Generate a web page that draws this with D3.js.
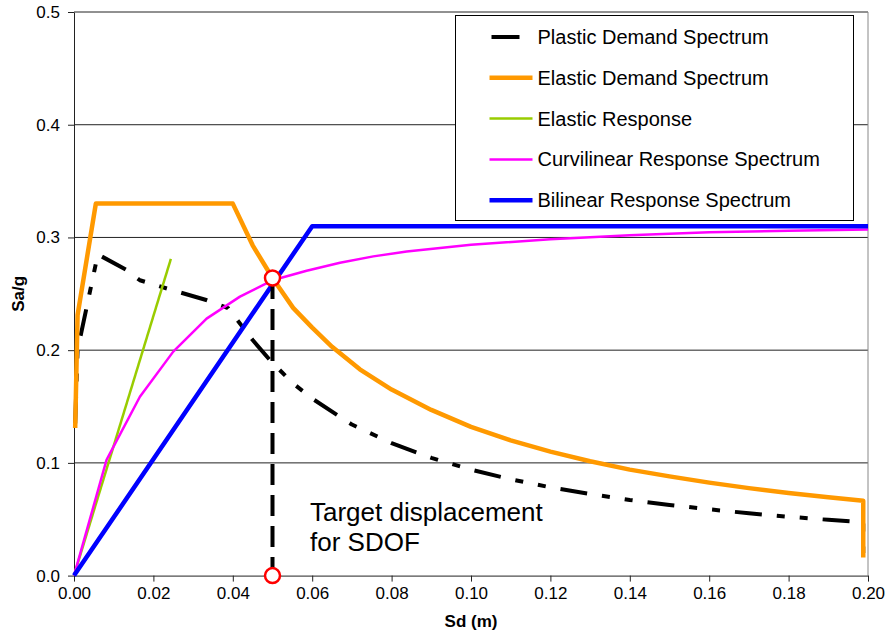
<!DOCTYPE html>
<html>
<head>
<meta charset="utf-8">
<script src="https://cdn.jsdelivr.net/npm/d3@7"></script>
<style>
    body { margin: 0; background: #fff; }
    #chart-area { width: 886px; height: 635px; }
    text { font-family: "Liberation Sans", Arial, sans-serif; fill: #000; }
</style>
</head>
<body>
<div id="chart-area"></div>
<script>
// axis ticks
const xTicks = [0, 0.02, 0.04, 0.06, 0.08, 0.10, 0.12, 0.14, 0.16, 0.18, 0.20];
const yTicks = [0, 0.1, 0.2, 0.3, 0.4, 0.5];

// series names (legend order = draw order)
const seriesNames = ["Plastic Demand Spectrum", "Elastic Demand Spectrum", "Elastic Response",
    "Curvilinear Response Spectrum", "Bilinear Response Spectrum"];

// Plastic demand spectrum (Sd in m, Sa in g)
const plasticSd = [0.0003, 0.0009, 0.006, 0.0133, 0.0166, 0.025, 0.0333, 0.0388, 0.045, 0.0494, 0.055,
    0.06, 0.07, 0.08, 0.09, 0.10, 0.11, 0.12, 0.13, 0.14, 0.15, 0.16, 0.17, 0.18, 0.19, 0.1988, 0.1988];
const plasticSa = [0.135, 0.2, 0.285, 0.271, 0.262, 0.253, 0.2445, 0.2374, 0.209, 0.191, 0.171,
    0.157, 0.134, 0.1175, 0.1045, 0.094, 0.0855, 0.0783, 0.0723, 0.0671, 0.0627, 0.0588, 0.0553, 0.0522, 0.0495, 0.0473, 0.02];

// Elastic demand spectrum
const elasticSd = [0.0003, 0.0009, 0.0055, 0.04, 0.045, 0.05, 0.0552, 0.06, 0.065, 0.072, 0.08, 0.09,
    0.10, 0.11, 0.12, 0.13, 0.14, 0.15, 0.16, 0.17, 0.18, 0.19, 0.1988, 0.1988];
const elasticSa = [0.131, 0.231, 0.33, 0.33, 0.293, 0.264, 0.2375, 0.22, 0.203, 0.183, 0.165, 0.147,
    0.132, 0.12, 0.11, 0.1015, 0.094, 0.088, 0.0825, 0.0776, 0.0733, 0.0695, 0.0665, 0.016];

// Elastic response
const elasticRespSd = [0, 0.0244];
const elasticRespSa = [0, 0.281];

// Curvilinear response spectrum
const curveSd = [0, 0.0082, 0.0166, 0.025, 0.0334, 0.0418, 0.0502, 0.0586, 0.067, 0.0754, 0.0838,
    0.10, 0.12, 0.14, 0.16, 0.18, 0.20];
const curveSa = [0, 0.1026, 0.1587, 0.1987, 0.228, 0.2475, 0.2623, 0.2705, 0.2775, 0.2832, 0.2875,
    0.2935, 0.2985, 0.302, 0.3045, 0.306, 0.307];

// Bilinear response spectrum
const bilinearSd = [0, 0.06, 0.20];
const bilinearSa = [0, 0.31, 0.31];

// performance point
const targetSd = 0.05;
const targetSa = 0.264;

class SpectrumChart {

    constructor(parentElement) {
        this.parentElement = parentElement;
        this.initVis();
    }

    initVis() {
        let vis = this;

        vis.margin = {top: 12, right: 18, bottom: 59.4, left: 74};
        vis.width = 886 - vis.margin.left - vis.margin.right;
        vis.height = 635 - vis.margin.top - vis.margin.bottom;

        vis.root = d3.select("#" + vis.parentElement).append("svg")
            .attr("width", 886)
            .attr("height", 635);
        vis.svg = vis.root.append("g")
            .attr("transform", `translate(${vis.margin.left}, ${vis.margin.top})`);

        vis.x = d3.scaleLinear().domain([0, 0.2]).range([0, vis.width]);
        vis.y = d3.scaleLinear().domain([0, 0.5]).range([vis.height, 0]);

        vis.line = d3.line()
            .x(d => vis.x(d[0]))
            .y(d => vis.y(d[1]));

        vis.series = [
            {name: seriesNames[0], sd: plasticSd, sa: plasticSa, color: "#000", width: 4, dash: "27,15,8,15,8,15"},
            {name: seriesNames[1], sd: elasticSd, sa: elasticSa, color: "#ff9900", width: 4.5, dash: null},
            {name: seriesNames[2], sd: elasticRespSd, sa: elasticRespSa, color: "#99cc00", width: 2.5, dash: null},
            {name: seriesNames[3], sd: curveSd, sa: curveSa, color: "#ff00ff", width: 2.5, dash: null},
            {name: seriesNames[4], sd: bilinearSd, sa: bilinearSa, color: "#0000ff", width: 4.5, dash: null}
        ];

        vis.drawAxes();
        vis.drawSeries();
        vis.drawLegend();
    }

    drawAxes() {
        let vis = this;

        // horizontal gridlines
        vis.svg.append("g").selectAll("line.grid")
            .data(yTicks.filter(d => d > 0))
            .enter().append("line")
            .attr("class", "grid")
            .attr("x1", 0).attr("x2", vis.width)
            .attr("y1", d => vis.y(d)).attr("y2", d => vis.y(d))
            .style("stroke", "#222")
            .style("stroke-width", 1);

        // plot area right border
        vis.svg.append("line")
            .attr("x1", vis.width).attr("x2", vis.width)
            .attr("y1", 0).attr("y2", vis.height)
            .style("stroke", "#888")
            .style("stroke-width", 1);

        let xAxis = d3.axisBottom(vis.x)
            .tickValues(xTicks)
            .tickFormat(d3.format(".2f"))
            .tickSizeInner(6).tickSizeOuter(0).tickPadding(5);
        let yAxis = d3.axisLeft(vis.y)
            .tickValues(yTicks)
            .tickFormat(d3.format(".1f"))
            .tickSizeInner(6).tickSizeOuter(0).tickPadding(8);

        let gx = vis.svg.append("g")
            .attr("transform", `translate(0, ${vis.height})`)
            .call(xAxis);
        let gy = vis.svg.append("g").call(yAxis);

        [gx, gy].forEach(g => {
            g.selectAll("text").style("font-size", "17px")
                .style("font-family", "'Liberation Sans', Arial, sans-serif");
            g.selectAll("line").style("stroke", "#222");
            g.select(".domain").style("stroke", "#222");
        });

        // axis titles
        vis.root.append("text")
            .attr("x", vis.margin.left + vis.width / 2)
            .attr("y", 627)
            .attr("text-anchor", "middle")
            .style("font-size", "17px")
            .style("font-weight", "bold")
            .text("Sd (m)");

        vis.root.append("text")
            .attr("transform", `translate(24, ${vis.margin.top + vis.height / 2}) rotate(-90)`)
            .attr("text-anchor", "middle")
            .style("font-size", "17px")
            .style("font-weight", "bold")
            .text("Sa/g");
    }

    drawSeries() {
        let vis = this;

        vis.svg.selectAll("path.series")
            .data(vis.series)
            .enter().append("path")
            .attr("class", "series")
            .attr("d", s => vis.line(d3.zip(s.sd, s.sa)))
            .style("fill", "none")
            .style("stroke", s => s.color)
            .style("stroke-width", s => s.width)
            .style("stroke-dasharray", s => s.dash)
            .style("stroke-linejoin", "round");

        // vertical target line
        vis.svg.append("line")
            .attr("x1", vis.x(targetSd)).attr("x2", vis.x(targetSd))
            .attr("y1", vis.y(targetSa)).attr("y2", vis.y(0))
            .style("stroke", "#000")
            .style("stroke-width", 4)
            .style("stroke-dasharray", "21,10");

        // circle markers
        vis.svg.selectAll("circle.target")
            .data([[targetSd, targetSa], [targetSd, 0]])
            .enter().append("circle")
            .attr("class", "target")
            .attr("cx", d => vis.x(d[0]))
            .attr("cy", d => vis.y(d[1]))
            .attr("r", 7.5)
            .style("fill", "#fff")
            .style("stroke", "#ff0000")
            .style("stroke-width", 2.5);

        // annotation
        let note = vis.root.append("text")
            .attr("x", 310)
            .attr("y", 521)
            .style("font-size", "26px");
        note.append("tspan").attr("x", 310).text("Target displacement");
        note.append("tspan").attr("x", 310).attr("dy", 30).text("for SDOF");
    }

    drawLegend() {
        let vis = this;

        let legend = vis.root.append("g")
            .attr("class", "legend")
            .attr("transform", "translate(455.5, 15.5)");

        legend.append("rect")
            .attr("width", 398)
            .attr("height", 205)
            .style("fill", "#fff")
            .style("stroke", "#000")
            .style("stroke-width", 1);

        let rows = legend.selectAll("g.row")
            .data(vis.series)
            .enter().append("g")
            .attr("class", "row")
            .attr("transform", (d, i) => `translate(0, ${21.5 + i * 40.8})`);

        rows.append("line")
            .attr("x1", (d, i) => i === 0 ? 36 : 34)
            .attr("x2", (d, i) => i === 0 ? 64 : 77)
            .style("stroke", d => d.color)
            .style("stroke-width", d => d.width);

        rows.append("text")
            .attr("x", 82)
            .attr("dy", "0.35em")
            .style("font-size", "20px")
            .text(d => d.name);
    }
}

new SpectrumChart("chart-area");
</script>
</body>
</html>
